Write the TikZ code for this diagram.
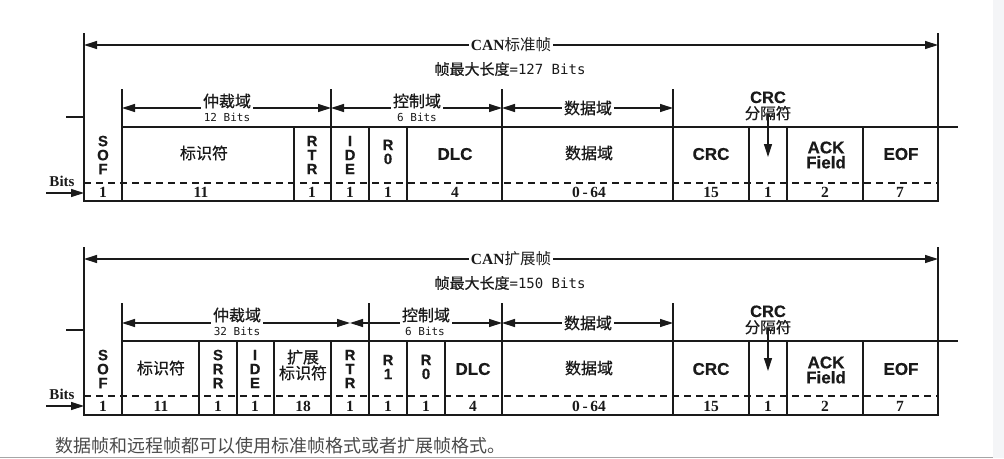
\documentclass[tikz,border=0pt]{standalone}
\usepackage{fontspec}
\setmainfont{Liberation Serif}
\newfontfamily\cjk{Noto Sans CJK SC}
\newfontfamily\cjkb[FakeBold=0.6]{Noto Sans CJK SC}
\newfontfamily\arialf[FakeBold=0.5]{Liberation Sans}
\newfontfamily\monof{DejaVu Sans Mono}
\usetikzlibrary{arrows.meta}
\definecolor{ink}{HTML}{1A1A1A}
\definecolor{capgray}{HTML}{4A4A4A}
\definecolor{strip}{HTML}{F4F5F7}
\tikzset{
  ln/.style={line width=1.2pt, draw=ink},
  dashln/.style={line width=1.1pt, draw=ink, dash pattern=on 7pt off 5pt},
  dimarrow/.style={ln, {Triangle[length=13pt,width=8pt]}-{Triangle[length=13pt,width=8pt]}},
  onearrow/.style={ln, -{Triangle[length=13pt,width=8pt]}},
  txt/.style={inner sep=0pt, text=ink},
  boldlab/.style={txt, align=center, font=\arialf\bfseries\fontsize{17}{15}\selectfont},
  seplab/.style={txt, font=\arialf\bfseries\fontsize{16.5}{16.5}\selectfont, text height=12pt, text depth=0pt},
  sepcn/.style={txt, font=\cjkb\fontsize{15.5}{15.5}\selectfont, text height=12pt, text depth=2pt},
  vlab/.style={txt, align=center, font=\arialf\bfseries\fontsize{15}{14}\selectfont},
  cnlab/.style={txt, font=\cjkb\fontsize{16}{16}\selectfont},
  cnlab2/.style={txt, align=center, font=\cjkb\fontsize{16}{14}\selectfont},
  num/.style={txt, font=\bfseries\fontsize{15.5}{15.5}\selectfont},
  bitslab/.style={txt, font=\monof\fontsize{11}{11}\selectfont},
  covered/.style={fill=white, inner sep=2pt},
  title/.style={txt, fill=white, inner xsep=2pt, inner ysep=1pt, font=\fontsize{15.5}{15.5}\selectfont},
  sub/.style={txt, font=\fontsize{15}{15}\selectfont},
}
\begin{document}
\begin{tikzpicture}[x=1pt,y=-1pt]
\useasboundingbox (0,0) rectangle (1004,458);
\fill[strip] (993,0) rectangle (1004,458);
\draw[line width=1pt, draw=black!35] (0,457) -- (993,457);

% ================= Standard frame =================
\begin{scope}
  \draw[ln] (84,33) -- (84,201) -- (938,201) -- (938,33);
  \draw[ln] (122,127) -- (958,127);
  \draw[ln] (66,117) -- (84,117);
  \draw[dashln] (84,183) -- (938,183);
  \foreach \x in {294,369,407,749,787,863} \draw[ln] (\x,127) -- (\x,201);
  \foreach \x in {122,331,502,673} \draw[ln] (\x,89) -- (\x,201);
  \coordinate (aTL) at (84,45); \coordinate (aTR) at (938,45);
  \draw[dimarrow] (aTL) -- (aTR);
  \node[title] (aTitle) at (511,45) {{\bfseries CAN}{\cjk 标准帧}};
  \node[sub] (aMax) at (510,69) {{\cjkb 帧最大长度}{\monof\fontsize{14}{14}\selectfont =127 Bits}};
  \coordinate (aA1) at (122,108); \coordinate (aA2) at (331,108);
  \coordinate (aA3) at (502,108); \coordinate (aA4) at (673,108);
  \draw[dimarrow] (aA1) -- (aA2);
  \draw[dimarrow] (aA2) -- (aA3);
  \draw[dimarrow] (aA3) -- (aA4);
  \node[cnlab, covered] (aArb) at (227,101) {仲裁域};
  \node[bitslab] (aArbB) at (227,117) {12 Bits};
  \node[cnlab, covered] (aCtl) at (417,101) {控制域};
  \node[bitslab] (aCtlB) at (417,117) {6 Bits};
  \node[cnlab, covered] (aDat) at (588,108) {数据域};
  \node[seplab] (aSepA) at (768,97) {CRC};
  \node[sepcn] (aSepB) at (768,114) {分隔符};
  \coordinate (aSepEnd) at (768,157);
  \draw[onearrow] (aSepB.center) -- (aSepEnd);
  \node[vlab] (aSOF) at (103,155) {S\\O\\F};
  \node[cnlab] (aID) at (204,153) {标识符};
  \node[vlab] (aRTR) at (312,155) {R\\T\\R};
  \node[vlab] (aIDE) at (350,155) {I\\D\\E};
  \node[vlab] (aR0) at (388,152) {R\\0};
  \node[boldlab] (aDLC) at (455,154) {DLC};
  \node[cnlab] (aData) at (589,153) {数据域};
  \node[boldlab] (aCRC) at (711,154) {CRC};
  \node[boldlab] (aACK) at (826,155) {ACK\\Field};
  \node[boldlab] (aEOF) at (901,154) {EOF};
  \node[txt, font=\bfseries\fontsize{15}{15}\selectfont] (aBits) at (62,181) {Bits};
  \coordinate (aBitsS) at (46,193); \coordinate (aBitsE) at (84,193);
  \draw[onearrow] (aBitsS) -- (aBitsE);
  \node[num] (an1) at (103,192) {1};
  \node[num] (an2) at (201,192) {11};
  \node[num] (an3) at (312,192) {1};
  \node[num] (an4) at (350,192) {1};
  \node[num] (an5) at (388,192) {1};
  \node[num] (an6) at (455,192) {4};
  \node[num] (an7) at (589,192) {0\,-\,64};
  \node[num] (an8) at (711,192) {15};
  \node[num] (an9) at (768,192) {1};
  \node[num] (an10) at (825,192) {2};
  \node[num] (an11) at (900,192) {7};
\end{scope}

% ================= Extended frame =================
\begin{scope}[shift={(0,214)}]
  \draw[ln] (84,33) -- (84,201) -- (938,201) -- (938,33);
  \draw[ln] (122,127) -- (958,127);
  \draw[ln] (66,116) -- (84,116);
  \draw[dashln] (84,182) -- (938,182);
  \foreach \x in {199,237,274,331,407,445,749,787,863} \draw[ln] (\x,127) -- (\x,201);
  \foreach \x in {122,369,502,673} \draw[ln] (\x,89) -- (\x,201);
  \coordinate (bTL) at (84,45); \coordinate (bTR) at (938,45);
  \draw[dimarrow] (bTL) -- (bTR);
  \node[title] (bTitle) at (511,45) {{\bfseries CAN}{\cjk 扩展帧}};
  \node[sub] (bMax) at (510,69) {{\cjkb 帧最大长度}{\monof\fontsize{14}{14}\selectfont =150 Bits}};
  \coordinate (bA1) at (122,109); \coordinate (bA2) at (350,109);
  \coordinate (bA3) at (502,109); \coordinate (bA4) at (673,109);
  \draw[dimarrow] (bA1) -- (bA2);
  \draw[dimarrow] (bA2) -- (bA3);
  \draw[dimarrow] (bA3) -- (bA4);
  \node[cnlab, covered] (bArb) at (237,101) {仲裁域};
  \node[bitslab] (bArbB) at (237,117) {32 Bits};
  \node[cnlab, covered] (bCtl) at (426,101) {控制域};
  \node[bitslab] (bCtlB) at (425,117) {6 Bits};
  \node[cnlab, covered] (bDat) at (588,109) {数据域};
  \node[seplab] (bSepA) at (768,97) {CRC};
  \node[sepcn] (bSepB) at (768,114) {分隔符};
  \coordinate (bSepEnd) at (768,157);
  \draw[onearrow] (bSepB.center) -- (bSepEnd);
  \node[vlab] (bSOF) at (103,155) {S\\O\\F};
  \node[cnlab] (bID) at (161,154) {标识符};
  \node[vlab] (bSRR) at (218,155) {S\\R\\R};
  \node[vlab] (bIDE) at (255,155) {I\\D\\E};
  \node[cnlab2] (bXID) at (303,151) {扩展\\标识符};
  \node[vlab] (bRTR) at (350,155) {R\\T\\R};
  \node[vlab] (bR1) at (388,153) {R\\1};
  \node[vlab] (bR0) at (426,153) {R\\0};
  \node[boldlab] (bDLC) at (473,155) {DLC};
  \node[cnlab] (bData) at (589,154) {数据域};
  \node[boldlab] (bCRC) at (711,155) {CRC};
  \node[boldlab] (bACK) at (826,156) {ACK\\Field};
  \node[boldlab] (bEOF) at (901,155) {EOF};
  \node[txt, font=\bfseries\fontsize{15}{15}\selectfont] (bBits) at (62,180) {Bits};
  \coordinate (bBitsS) at (46,192); \coordinate (bBitsE) at (84,192);
  \draw[onearrow] (bBitsS) -- (bBitsE);
  \node[num] (bn1) at (103,192) {1};
  \node[num] (bn2) at (161,192) {11};
  \node[num] (bn3) at (218,192) {1};
  \node[num] (bn4) at (255,192) {1};
  \node[num] (bn5) at (303,192) {18};
  \node[num] (bn6) at (350,192) {1};
  \node[num] (bn7) at (388,192) {1};
  \node[num] (bn8) at (426,192) {1};
  \node[num] (bn9) at (473,192) {4};
  \node[num] (bn10) at (589,192) {0\,-\,64};
  \node[num] (bn11) at (711,192) {15};
  \node[num] (bn12) at (768,192) {1};
  \node[num] (bn13) at (825,192) {2};
  \node[num] (bn14) at (900,192) {7};
\end{scope}

\node[anchor=west, inner sep=0pt, text=capgray, font=\cjk\fontsize{18}{18}\selectfont] (caption) at (55,446) {数据帧和远程帧都可以使用标准帧格式或者扩展帧格式。};
\end{tikzpicture}
\end{document}
